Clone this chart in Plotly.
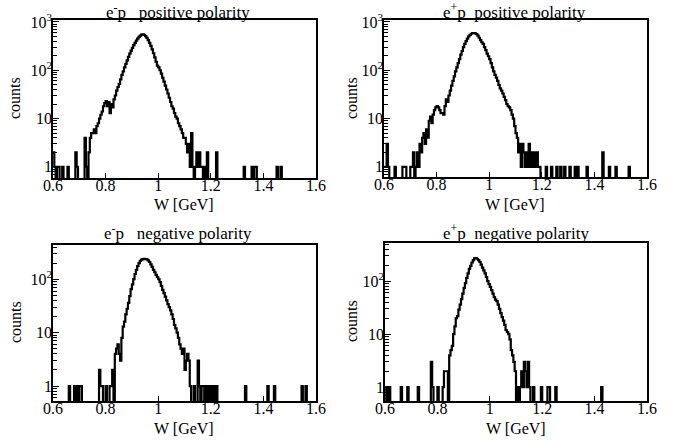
import numpy as np
import plotly.graph_objects as go

# ---------------- data ----------------
W_MIN, W_MAX, N_BINS = 0.6, 1.6, 200

panel_titles = ["e<sup>-</sup>p\u00a0\u00a0\u00a0positive polarity",
                "e<sup>+</sup>p\u00a0\u00a0positive polarity",
                "e<sup>-</sup>p\u00a0\u00a0\u00a0negative polarity",
                "e<sup>+</sup>p\u00a0\u00a0negative polarity"]

x_tickvals = [0.6, 0.8, 1.0, 1.2, 1.4, 1.6]
x_ticktext = ["0.6", "0.8", "1", "1.2", "1.4", "1.6"]
y_tickvals = [1, 10, 100, 1000]
y_ticktext = ["1", "10", "10<sup>2</sup>", "10<sup>3</sup>"]

counts_em_pos = [
    2, 1, 0, 1, 1, 0, 0, 1, 0, 0,
    0, 1, 0, 0, 0, 0, 0, 2, 1, 0,
    0, 0, 0, 0, 4, 1, 0, 2, 4, 5,
    5, 6, 5, 7, 8, 10, 12, 14, 18, 21,
    23, 18, 22, 13, 20, 17, 25, 30, 38, 45,
    52, 65, 80, 95, 115, 135, 160, 190, 220, 255,
    290, 330, 370, 410, 450, 490, 520, 545, 555, 540,
    510, 470, 420, 370, 320, 270, 225, 185, 150, 125,
    115, 100, 85, 70, 58, 48, 40, 33, 27, 22,
    18, 16, 13, 11, 10, 8, 7, 6, 5, 4,
    4, 3, 2, 3, 1, 5, 1, 0, 1, 2,
    1, 2, 1, 1, 0, 1, 0, 2, 0, 0,
    0, 0, 0, 0, 2, 0, 0, 0, 0, 0,
    0, 0, 0, 0, 0, 0, 0, 0, 0, 0,
    0, 0, 0, 0, 0, 1, 0, 0, 0, 0,
    0, 1, 0, 1, 1, 0, 0, 0, 0, 0,
    0, 0, 0, 0, 0, 0, 0, 0, 0, 0,
    1, 0, 0, 1, 0, 0, 0, 0, 0, 0,
    0, 0, 0, 0, 0, 0, 0, 0, 0, 0,
    0, 0, 0, 0, 0, 0, 0, 0, 0, 0,
]

counts_ep_pos = [
    1, 1, 3, 1, 0, 0, 0, 0, 1, 0,
    0, 0, 0, 0, 1, 1, 1, 0, 0, 0,
    1, 1, 2, 0, 1, 2, 1, 3, 2, 4,
    5, 3, 6, 4, 9, 11, 8, 12, 15, 17,
    18, 17, 15, 13, 13, 12, 18, 25, 22, 30,
    38, 48, 60, 75, 95, 115, 140, 170, 210, 250,
    300, 350, 400, 450, 500, 540, 570, 590, 590, 580,
    560, 520, 470, 420, 380, 350, 300, 260, 220, 195,
    170, 140, 115, 95, 80, 70, 60, 50, 42, 38,
    33, 28, 24, 20, 18, 17, 15, 12, 10, 7,
    5, 4, 2, 3, 1, 3, 2, 1, 2, 1,
    3, 1, 2, 1, 2, 1, 2, 1, 1, 0,
    0, 0, 0, 1, 0, 0, 0, 1, 0, 0,
    0, 1, 0, 0, 1, 0, 0, 1, 0, 0,
    0, 1, 0, 0, 0, 1, 0, 1, 0, 0,
    0, 0, 0, 0, 1, 0, 0, 0, 0, 0,
    0, 0, 0, 0, 0, 0, 2, 0, 0, 0,
    0, 1, 0, 0, 0, 0, 1, 0, 0, 0,
    0, 0, 0, 0, 0, 0, 1, 0, 0, 0,
    0, 0, 0, 0, 0, 0, 0, 0, 0, 0,
]

counts_em_neg = [
    0, 0, 0, 0, 0, 0, 0, 0, 0, 0,
    0, 0, 1, 0, 0, 0, 1, 0, 1, 0,
    1, 1, 0, 0, 0, 0, 0, 0, 0, 0,
    0, 0, 0, 0, 0, 2, 1, 1, 0, 0,
    1, 0, 0, 1, 1, 2, 0, 4, 5, 6,
    4, 3, 8, 13, 16, 22, 28, 36, 48, 65,
    80, 100, 125, 150, 175, 200, 220, 232, 238, 240,
    238, 235, 225, 210, 190, 170, 150, 135, 120, 110,
    100, 88, 75, 63, 55, 47, 40, 34, 30, 26,
    22, 18, 14, 12, 10, 8, 6, 5, 4, 5,
    2, 3, 4, 3, 1, 0, 0, 1, 0, 0,
    3, 1, 0, 1, 1, 0, 1, 0, 1, 0,
    1, 0, 1, 0, 1, 0, 0, 0, 0, 0,
    0, 0, 0, 0, 0, 0, 0, 0, 0, 0,
    0, 0, 0, 0, 0, 0, 1, 0, 0, 0,
    0, 0, 0, 0, 0, 0, 0, 0, 0, 0,
    0, 0, 0, 1, 0, 0, 0, 0, 1, 0,
    0, 0, 0, 0, 0, 0, 0, 0, 0, 0,
    0, 0, 0, 0, 0, 0, 0, 0, 0, 1,
    0, 0, 1, 0, 0, 0, 0, 0, 0, 0,
]

counts_ep_neg = [
    0, 1, 0, 1, 0, 0, 0, 0, 0, 0,
    0, 0, 1, 0, 0, 0, 0, 1, 0, 0,
    0, 0, 0, 0, 0, 1, 0, 0, 0, 0,
    0, 0, 0, 0, 0, 3, 1, 0, 0, 0,
    1, 0, 0, 0, 1, 2, 2, 2, 0, 4,
    5, 6, 10, 14, 20, 22, 29, 36, 46, 58,
    75, 92, 115, 140, 170, 195, 225, 250, 268, 273,
    265, 250, 230, 205, 180, 160, 140, 120, 100, 88,
    78, 68, 58, 50, 45, 42, 36, 30, 25, 21,
    18, 15, 12, 11, 10, 8, 5, 4, 3, 2,
    0, 1, 0, 1, 2, 1, 3, 2, 1, 3,
    1, 0, 0, 1, 0, 0, 0, 0, 0, 1,
    0, 0, 0, 0, 1, 1, 0, 0, 0, 0,
    1, 0, 0, 0, 0, 0, 0, 0, 0, 0,
    0, 0, 0, 0, 0, 0, 0, 0, 0, 0,
    0, 0, 0, 0, 0, 0, 0, 0, 0, 0,
    0, 0, 0, 0, 0, 1, 0, 0, 0, 0,
    0, 0, 0, 0, 0, 0, 0, 0, 0, 0,
    0, 0, 0, 0, 0, 0, 0, 0, 0, 0,
    0, 0, 0, 0, 0, 0, 0, 0, 0, 0,
]

all_counts = [counts_em_pos, counts_ep_pos, counts_em_neg, counts_ep_neg]

# ---------------- layout geometry (pixels) ----------------
FIG_W, FIG_H = 682, 440
# (left, right, top, bottom) of each frame in px
frames = [(53, 316, 20, 178), (384, 647, 20, 177),
          (53, 316, 245, 401), (385, 647, 243, 401)]
y_ranges = [[-0.23, 3.04], [-0.21, 3.04], [-0.28, 2.64], [-0.26, 2.72]]
title_pos = [(178, 11), (514, 11), (178, 232), (516, 232)]
xlabel_pos = [(184, 204), (515, 204), (184, 428), (516, 428)]
ylabel_pos = [(15, 98), (352, 98), (15, 322), (351, 321)]

FONT = "Liberation Serif"

edges = np.linspace(W_MIN, W_MAX, N_BINS + 1)

fig = go.Figure()
minor_vals = [m * 10.0 ** e for e in range(-1, 3) for m in range(2, 10)]

for k, counts in enumerate(all_counts):
    c = np.array(counts, dtype=float)
    c[c <= 0] = 1e-3  # empty bins drop below the frame (log scale)
    xs = edges
    ys = np.append(c, c[-1])
    sfx = "" if k == 0 else str(k + 1)
    fig.add_trace(go.Scatter(x=xs, y=ys, mode="lines", line_shape="hv",
                             line=dict(color="black", width=2.2),
                             xaxis="x" + sfx, yaxis="y" + sfx,
                             showlegend=False, hoverinfo="skip"))
    l, r, t, b = frames[k]
    fig.layout["xaxis" + sfx] = dict(
        domain=[l / FIG_W, r / FIG_W], anchor="y" + sfx,
        range=[W_MIN, W_MAX], tickmode="array", tickvals=x_tickvals,
        ticktext=x_ticktext, ticks="inside", ticklen=5, tickwidth=1,
        tickcolor="black", showline=True, linecolor="black", linewidth=1.5,
        mirror=True, showgrid=False, zeroline=False, automargin=False,
        ticklabelstandoff=-8,
        tickfont=dict(family=FONT, size=16, color="black"))
    fig.layout["yaxis" + sfx] = dict(
        domain=[1 - b / FIG_H, 1 - t / FIG_H], anchor="x" + sfx,
        type="log", range=y_ranges[k], tickmode="array",
        tickvals=y_tickvals, ticktext=y_ticktext, ticks="inside",
        ticklen=6, tickwidth=1, tickcolor="black",
        minor=dict(tickmode="array", tickvals=minor_vals, ticks="inside",
                   ticklen=4, tickwidth=1, tickcolor="black", showgrid=False),
        showline=True, linecolor="black", linewidth=1.5, mirror=True,
        showgrid=False, zeroline=False, automargin=False,
        ticklabelstandoff=-4,
        tickfont=dict(family=FONT, size=16, color="black"))

annotations = []
for k in range(4):
    tx, ty = title_pos[k]
    annotations.append(dict(text=panel_titles[k], x=tx / FIG_W, y=1 - ty / FIG_H,
                            xref="paper", yref="paper", showarrow=False,
                            xanchor="center", yanchor="middle",
                            font=dict(family=FONT, size=17, color="black")))
    lx, ly = xlabel_pos[k]
    annotations.append(dict(text="W [GeV]", x=lx / FIG_W, y=1 - ly / FIG_H,
                            xref="paper", yref="paper", showarrow=False,
                            xanchor="center", yanchor="middle",
                            font=dict(family=FONT, size=16, color="black")))
    cx, cy = ylabel_pos[k]
    annotations.append(dict(text="counts", x=cx / FIG_W, y=1 - cy / FIG_H,
                            xref="paper", yref="paper", showarrow=False,
                            textangle=-90, xanchor="center", yanchor="middle",
                            font=dict(family=FONT, size=16, color="black")))

fig.update_layout(width=FIG_W, height=FIG_H,
                  margin=dict(l=0, r=0, t=0, b=0, pad=0, autoexpand=False),
                  paper_bgcolor="white", plot_bgcolor="white",
                  font=dict(family=FONT, color="black"),
                  annotations=annotations)

fig.write_html("out.html", config={"displayModeBar": False},
               post_script="document.body.style.margin='0';"
                           "document.body.style.overflow='hidden';")
